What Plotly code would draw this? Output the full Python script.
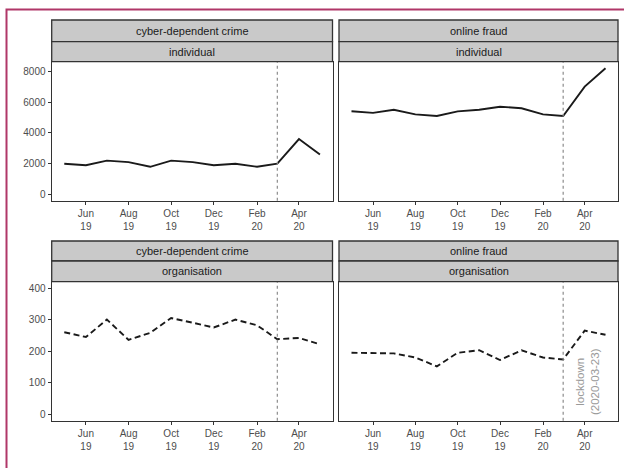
import plotly.graph_objects as go

# Monthly reports, May 2019 - May 2020
months = ["2019-05-01", "2019-06-01", "2019-07-01", "2019-08-01", "2019-09-01",
          "2019-10-01", "2019-11-01", "2019-12-01", "2020-01-01", "2020-02-01",
          "2020-03-01", "2020-04-01", "2020-05-01"]

cyber_individual = [2000, 1900, 2200, 2100, 1800, 2200, 2100, 1900, 2000, 1800, 2000, 3600, 2600]
fraud_individual = [5400, 5300, 5500, 5200, 5100, 5400, 5500, 5700, 5600, 5200, 5100, 7000, 8200]
cyber_organisation = [260, 245, 300, 236, 258, 305, 290, 275, 300, 282, 238, 242, 222]
fraud_organisation = [195, 195, 193, 180, 152, 195, 203, 172, 203, 180, 174, 265, 252]

tick_dates = ["2019-06-01", "2019-08-01", "2019-10-01", "2019-12-01", "2020-02-01", "2020-04-01"]
tick_text = ["Jun<br>19", "Aug<br>19", "Oct<br>19", "Dec<br>19", "Feb<br>20", "Apr<br>20"]

col_labels = ["cyber-dependent crime", "online fraud"]
row_labels = ["individual", "organisation"]

lockdown_month = "2020-03-01"
lockdown_label = "lockdown<br>(2020-03-23)"

W, H = 624, 468
FONT = "Liberation Sans, Arial, sans-serif"
DARK = "#333333"

# panel geometry in pixels
cols_px = [(51.7, 332.5), (339.0, 618.0)]
rows_px = [(61.7, 200.7), (281.7, 420.7)]          # plot areas (top, bottom)
strips_px = [[(20.0, 41.7), (41.7, 61.7)], [(241.0, 261.0), (261.0, 281.7)]]
y_ranges = [[-400, 8620], [-20, 420]]
y_ticks = [[0, 2000, 4000, 6000, 8000], [0, 100, 200, 300, 400]]
x_range = ["2019-04-13", "2020-05-19"]

def px_x(p):
    return p / W

def px_y(p):
    return 1 - p / H

fig = go.Figure()

series = [[cyber_individual, fraud_individual], [cyber_organisation, fraud_organisation]]
dashes = ["solid", "6px,3.5px"]

shapes = []
annotations = []
layout_axes = {}

idx = 0
for r in range(2):
    for c in range(2):
        idx += 1
        xa = "x" if idx == 1 else f"x{idx}"
        ya = "y" if idx == 1 else f"y{idx}"
        fig.add_trace(go.Scatter(
            x=months, y=series[r][c], mode="lines",
            line=dict(color="#1a1a1a", width=1.9, dash=dashes[r]),
            xaxis=xa, yaxis=ya, showlegend=False, hoverinfo="x+y"))

        x0, x1 = cols_px[c]
        top, bottom = rows_px[r]
        layout_axes[f"xaxis{'' if idx == 1 else idx}"] = dict(
            domain=[px_x(x0), px_x(x1)], anchor=ya, type="date", range=x_range,
            tickvals=tick_dates, ticktext=tick_text, ticks="outside", ticklen=3,
            tickwidth=1.2, tickcolor=DARK, showgrid=False, zeroline=False,
            showline=True, linecolor=DARK, linewidth=1.3, mirror=True,
            tickfont=dict(family=FONT, size=10, color="#4d4d4d"))
        layout_axes[f"yaxis{'' if idx == 1 else idx}"] = dict(
            domain=[px_y(bottom), px_y(top)], anchor=xa, range=y_ranges[r],
            tickvals=y_ticks[r], showticklabels=(c == 0),
            ticks="outside" if c == 0 else "", ticklen=3, tickwidth=1.2,
            tickcolor=DARK, showgrid=False, zeroline=False, showline=True,
            linecolor=DARK, linewidth=1.3, mirror=True,
            tickfont=dict(family=FONT, size=10, color="#4d4d4d"))

        # lockdown marker
        shapes.append(dict(type="line", xref=xa, yref=f"{ya} domain",
                           x0=lockdown_month, x1=lockdown_month, y0=0, y1=1,
                           line=dict(color="#8c8c8c", width=1.2, dash="dot")))

        # facet strips
        for k, (s0, s1) in enumerate(strips_px[r]):
            shapes.append(dict(type="rect", xref="paper", yref="paper",
                               x0=px_x(x0), x1=px_x(x1), y0=px_y(s1), y1=px_y(s0),
                               fillcolor="#c9c9c9", line=dict(color=DARK, width=1.3),
                               layer="above"))
            label = col_labels[c] if k == 0 else row_labels[r]
            annotations.append(dict(xref="paper", yref="paper",
                                    x=(px_x(x0) + px_x(x1)) / 2,
                                    y=(px_y(s0) + px_y(s1)) / 2,
                                    text=label, showarrow=False,
                                    font=dict(family=FONT, size=11, color="#1a1a1a"),
                                    xanchor="center", yanchor="middle"))

annotations.append(dict(xref="x4", yref="y4", x="2020-04-06", y=103,
                        text=lockdown_label, textangle=-90, showarrow=False,
                        font=dict(family=FONT, size=11.5, color="#9a9a9a"),
                        xanchor="center", yanchor="middle"))

# outer frame
shapes.append(dict(type="rect", xref="paper", yref="paper",
                   x0=px_x(6.5), x1=1.05, y0=-0.05, y1=px_y(9.5),
                   line=dict(color="#b03768", width=2), fillcolor="rgba(0,0,0,0)"))

fig.update_layout(
    width=W, height=H, margin=dict(l=0, r=0, t=0, b=0),
    paper_bgcolor="white", plot_bgcolor="white",
    shapes=shapes, annotations=annotations, **layout_axes)

fig.write_html("out.html")
